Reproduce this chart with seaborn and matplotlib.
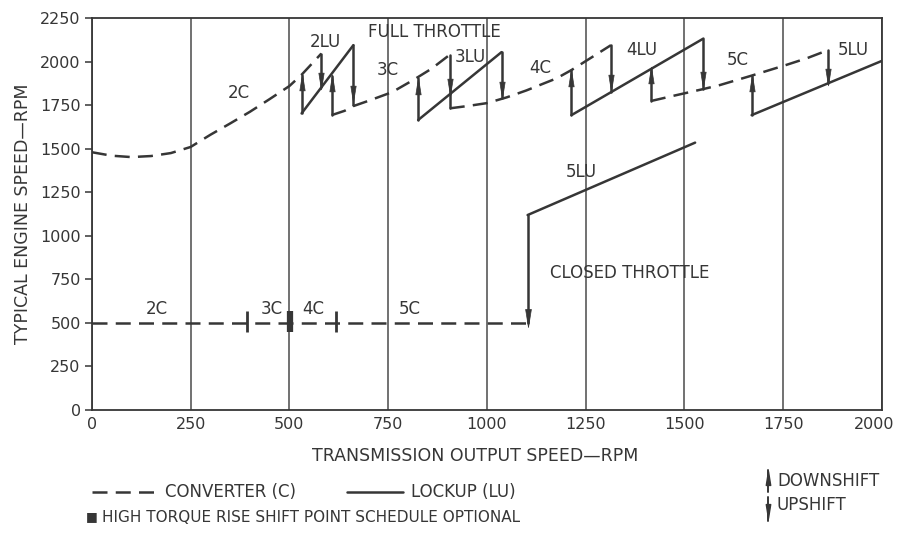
import matplotlib
matplotlib.use("Agg")
import matplotlib.pyplot as plt
import seaborn as sns
import pandas as pd
from matplotlib.path import Path
from matplotlib.lines import Line2D
from matplotlib.transforms import ScaledTranslation

# ---------------- data ----------------
# Full throttle converter (C, dashed) and lockup (LU, solid) curves
ft_2c_x = [0, 50, 100, 150, 200, 250, 300, 350, 400, 450, 500, 531, 581]
ft_2c_y = [1480, 1460, 1452, 1458, 1475, 1510, 1580, 1645, 1712, 1785, 1860, 1925, 2047]
ft_2lu_x = [531, 662]
ft_2lu_y = [1703, 2095]
ft_3c_x = [607, 640, 662, 700, 760, 813, 860, 906]
ft_3c_y = [1693, 1718, 1745, 1775, 1825, 1894, 1960, 2040]
ft_3lu_x = [826, 1037]
ft_3lu_y = [1665, 2055]
ft_4c_x = [906, 950, 1000, 1050, 1100, 1134, 1176, 1214, 1261, 1314]
ft_4c_y = [1732, 1745, 1762, 1795, 1835, 1866, 1904, 1952, 2019, 2095]
ft_4lu_x = [1214, 1548]
ft_4lu_y = [1693, 2133]
ft_5c_x = [1415, 1472, 1548, 1590, 1630, 1670, 1757, 1810, 1864]
ft_5c_y = [1774, 1804, 1843, 1866, 1893, 1920, 1981, 2020, 2067]
ft_5lu_x = [1670, 2000]
ft_5lu_y = [1693, 2005]

# Shift points (output rpm, engine rpm from, engine rpm to)
upshift_x = [581, 662, 906, 1037, 1314, 1548, 1864]
upshift_from = [2047, 2095, 2040, 2055, 2095, 2133, 2067]
upshift_to = [1853, 1751, 1813, 1790, 1828, 1843, 1878]
downshift_x = [531, 607, 826, 1214, 1415, 1670]
downshift_from = [1703, 1693, 1665, 1693, 1774, 1693]
downshift_to = [1925, 1920, 1904, 1952, 1958, 1920]
link_x = [906]
link_from = [1732]
link_to = [1813]

# Closed throttle
ct_c_x = [0, 1103]
ct_c_y = [500, 500]
ct_5lu_x = [1103, 1527]
ct_5lu_y = [1119, 1535]
ct_up_x = [1103]
ct_up_from = [1119]
ct_up_to = [500]
ct_shift_x = [394, 501, 618]
ct_shift_heavy = [False, True, False]

# Labels
ft_labels = ["FULL THROTTLE", "2LU", "2C", "3C", "3LU", "4C", "4LU", "5C", "5LU"]
ft_label_x = [868, 590, 372, 749, 957, 1134, 1392, 1636, 1927]
ft_label_y = [2172, 2114, 1818, 1952, 2028, 1961, 2067, 2009, 2067]
ct_labels = ["2C", "3C", "4C", "5C", "5LU", "CLOSED THROTTLE"]
ct_label_x = [164, 455, 560, 805, 1240, 1362]
ct_label_y = [580, 580, 580, 580, 1368, 785]

x_ticks = [0, 250, 500, 750, 1000, 1250, 1500, 1750, 2000]
y_ticks = [0, 250, 500, 750, 1000, 1250, 1500, 1750, 2000, 2250]

# ---------------- style ----------------
sns.set_theme(style="white")
FONT = ["DejaVu Sans"]
plt.rcParams["font.family"] = FONT
INK = "#363636"
LW = 1.8
DASH = (6, 3.3)
FS = 12

fig = plt.figure(figsize=(9, 5.35), dpi=100)
ax = fig.add_axes([0.102, 0.234, 0.878, 0.732])

up_head = Path([(-0.32, -1), (0.32, -1), (0, 1), (-0.32, -1)],
               [Path.MOVETO, Path.LINETO, Path.LINETO, Path.CLOSEPOLY])
down_head = Path([(-0.32, 1), (0.32, 1), (0, -1), (-0.32, 1)],
                 [Path.MOVETO, Path.LINETO, Path.LINETO, Path.CLOSEPOLY])


def curve(xs, ys, dashed):
    df = pd.DataFrame({"x": xs, "y": ys})
    sns.lineplot(data=df, x="x", y="y", ax=ax, sort=False, estimator=None,
                 color=INK, lw=LW, dashes=False,
                 linestyle=(0, DASH) if dashed else "-")


def arrow(x, y0, y1, frac=0.82, ms=12):
    df = pd.DataFrame({"x": [x, x], "y": [y0, y1]})
    sns.lineplot(data=df, x="x", y="y", ax=ax, sort=False, estimator=None,
                 color=INK, lw=LW)
    yh = y0 + (y1 - y0) * frac
    ax.plot([x], [yh], marker=up_head if y1 > y0 else down_head,
            ms=ms, color=INK, mec=INK, mew=0.5, zorder=5)


# vertical grid lines
for xt in x_ticks:
    ax.axvline(xt, color="#4a4a4a", lw=1.1, zorder=0)

# full throttle
curve(ft_2c_x, ft_2c_y, True)
curve(ft_2lu_x, ft_2lu_y, False)
curve(ft_3c_x, ft_3c_y, True)
curve(ft_3lu_x, ft_3lu_y, False)
curve(ft_4c_x, ft_4c_y, True)
curve(ft_4lu_x, ft_4lu_y, False)
curve(ft_5c_x, ft_5c_y, True)
curve(ft_5lu_x, ft_5lu_y, False)

for x, a, b in zip(upshift_x, upshift_from, upshift_to):
    arrow(x, a, b)
for x, a, b in zip(downshift_x, downshift_from, downshift_to):
    arrow(x, a, b)
for x, a, b in zip(link_x, link_from, link_to):
    ax.plot([x, x], [a, b], color=INK, lw=LW)

# closed throttle
curve(ct_c_x, ct_c_y, True)
curve(ct_5lu_x, ct_5lu_y, False)
for x, a, b in zip(ct_up_x, ct_up_from, ct_up_to):
    arrow(x, a, b, frac=0.96, ms=13)
for x, heavy in zip(ct_shift_x, ct_shift_heavy):
    ax.plot([x, x], [445, 570], color=INK, lw=4.5 if heavy else 2.0,
            solid_capstyle="butt", zorder=4)

for t, x, y in zip(ft_labels, ft_label_x, ft_label_y):
    ax.text(x, y, t, ha="center", va="center", fontsize=FS, color=INK)
for t, x, y in zip(ct_labels, ct_label_x, ct_label_y):
    ax.text(x, y, t, ha="center", va="center", fontsize=FS, color=INK)

ax.set_xlim(0, 2000)
ax.set_ylim(0, 2250)
ax.set_xticks(x_ticks)
ax.set_yticks(y_ticks)
ax.tick_params(axis="both", labelsize=11.5, colors=INK, length=5, width=1.1,
               direction="out", bottom=True, left=True)
ax.tick_params(axis="x", length=0, pad=5)
ax.tick_params(axis="y", pad=3)
for s in ax.spines.values():
    s.set_color(INK)
    s.set_linewidth(1.3)
ax.set_xlabel("TRANSMISSION OUTPUT SPEED—RPM", fontsize=12.5, color=INK, labelpad=11)
ax.xaxis.label.set_x(0.485)
ax.set_ylabel("TYPICAL ENGINE SPEED—RPM", fontsize=12.5, color=INK, labelpad=6)

# keep the last x tick label inside the canvas
last = ax.get_xticklabels()[-1]
last.set_transform(last.get_transform() + ScaledTranslation(-6 / 72, 0, fig.dpi_scale_trans))

# ---------------- legend ----------------
W, H = 900, 535


def fx(px):
    return px / W


def fy(py):
    return 1 - py / H


fig.add_artist(Line2D([fx(92), fx(160)], [fy(492), fy(492)], color=INK, lw=LW,
                      linestyle=(0, (6, 3.3))))
fig.text(fx(165), fy(492), "CONVERTER (C)", fontsize=FS, color=INK, va="center")
fig.add_artist(Line2D([fx(347), fx(403)], [fy(492), fy(492)], color=INK, lw=LW))
fig.text(fx(411), fy(492), "LOCKUP (LU)", fontsize=FS, color=INK, va="center")
fig.text(fx(86), fy(517), "■", fontsize=9, color=INK, va="center")
fig.text(fx(102), fy(517), "HIGH TORQUE RISE SHIFT POINT SCHEDULE OPTIONAL",
         fontsize=11, color=INK, va="center")

fig.add_artist(Line2D([fx(768), fx(768)], [fy(492), fy(470)], color=INK, lw=1.4))
fig.add_artist(Line2D([fx(768)], [fy(478)], marker=up_head, ms=10, color=INK))
fig.add_artist(Line2D([fx(768), fx(768)], [fy(497), fy(521)], color=INK, lw=1.4))
fig.add_artist(Line2D([fx(768)], [fy(511)], marker=down_head, ms=10, color=INK))
fig.text(fx(777), fy(481), "DOWNSHIFT", fontsize=FS, color=INK, va="center")
fig.text(fx(777), fy(505), "UPSHIFT", fontsize=FS, color=INK, va="center")

fig.savefig("out.png", dpi=100, facecolor="white")
